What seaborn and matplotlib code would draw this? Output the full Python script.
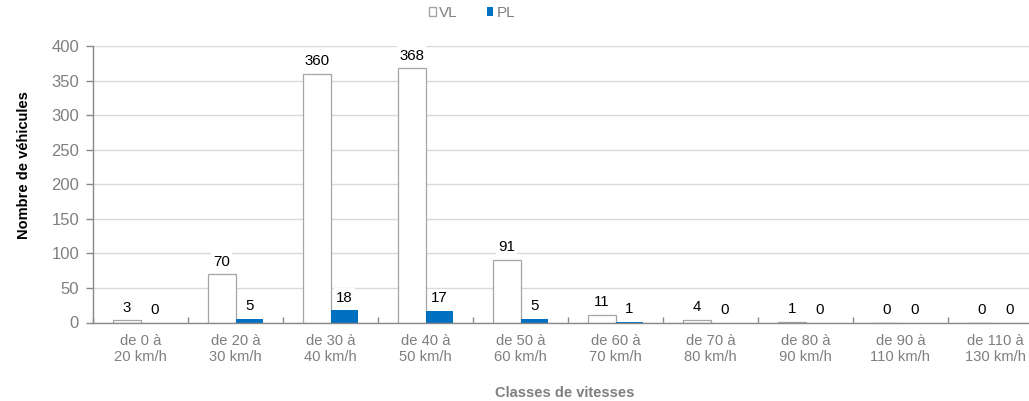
import matplotlib
matplotlib.use("Agg")
import matplotlib.pyplot as plt
import seaborn as sns
import pandas as pd
import numpy as np

# Speed classes and vehicle counts (VL = light vehicles, PL = heavy vehicles)
classes = ["de 0 à\n20 km/h", "de 20 à\n30 km/h", "de 30 à\n40 km/h", "de 40 à\n50 km/h",
           "de 50 à\n60 km/h", "de 60 à\n70 km/h", "de 70 à\n80 km/h", "de 80 à\n90 km/h",
           "de 90 à\n110 km/h", "de 110 à\n130 km/h"]
vl_counts = [3, 70, 360, 368, 91, 11, 4, 1, 0, 0]
pl_counts = [0, 5, 18, 17, 5, 1, 0, 0, 0, 0]
series = ["VL", "PL"]
y_ticks = [0, 50, 100, 150, 200, 250, 300, 350, 400]

df = pd.DataFrame({
    "classe": classes * 2,
    "type": ["VL"] * len(classes) + ["PL"] * len(classes),
    "nombre": vl_counts + pl_counts,
})

sns.set_theme(style="white")
plt.rcParams["font.family"] = ["Liberation Sans", "DejaVu Sans"]

GREY_TXT = "#7f7f7f"
GREY_AX = "#898989"
BLUE = "#0070C0"

fig = plt.figure(figsize=(10.29, 4.01), dpi=100)
ax = fig.add_axes([93 / 1029, (401 - 322.5) / 401, 950 / 1029, 276.5 / 401])

sns.barplot(data=df, x="classe", y="nombre", hue="type", hue_order=series,
            order=classes, palette={"VL": "white", "PL": BLUE}, saturation=1,
            width=0.58, gap=0, ax=ax, legend=True, zorder=3)

# Outline only the light-vehicle bars
for cont, name in zip(ax.containers, series):
    for p in cont.patches:
        if name == "VL":
            p.set_edgecolor("#a5a5a5")
            p.set_linewidth(0.9)
        else:
            p.set_edgecolor("none")
    ax.bar_label(cont, padding=4, fontsize=10.8, color="black",
                 bbox=dict(facecolor="white", edgecolor="none", pad=1.5), zorder=4)

ax.set_ylim(0, 400)
ax.set_yticks(y_ticks)
ax.set_xlim(-0.5, len(classes) - 0.5)
ax.yaxis.grid(True, color="#d9d9d9", linewidth=1, zorder=0)
ax.set_axisbelow(True)

for side in ["top", "right"]:
    ax.spines[side].set_visible(False)
for side in ["left", "bottom"]:
    ax.spines[side].set_color(GREY_AX)
    ax.spines[side].set_linewidth(1)
    ax.spines[side].set_zorder(5)

ax.tick_params(axis="y", which="major", direction="out", length=5, width=1,
               color=GREY_AX, labelsize=12, labelcolor=GREY_TXT, pad=5, left=True)
ax.tick_params(axis="x", which="major", length=0, labelsize=10.6,
               labelcolor=GREY_TXT, pad=8.5)
for lbl in ax.get_xticklabels():
    lbl.set_linespacing(1.15)
ax.set_xticks(np.arange(len(classes)) - 0.5, minor=True)
ax.tick_params(axis="x", which="minor", direction="in", length=4, width=1,
               color=GREY_AX, bottom=True)

ax.set_xlabel("Classes de vitesses", fontsize=10.5, fontweight="bold", color=GREY_TXT)
ax.xaxis.set_label_coords((565 - 93) / 950, -(386 - 322.5) / 276.5)
ax.set_ylabel("Nombre de véhicules", fontsize=10.5, fontweight="bold", color="black")
ax.yaxis.set_label_coords(-(93 - 31) / 950, (322.5 - 165) / 276.5)

handles, labels = ax.get_legend_handles_labels()
ax.get_legend().remove()
for h in handles:
    if h.get_facecolor()[:3] == (1.0, 1.0, 1.0):
        h.set_edgecolor("#a5a5a5")
    else:
        h.set_edgecolor("none")
fig.legend(handles, labels, loc="center", bbox_to_anchor=(472 / 1029, 1 - 13 / 401),
           ncol=2, frameon=False, fontsize=11, labelcolor=GREY_TXT,
           handlelength=0.45, handleheight=0.45, handletextpad=0.2,
           columnspacing=1.9, borderpad=0)

fig.savefig("out.png", dpi=100)
